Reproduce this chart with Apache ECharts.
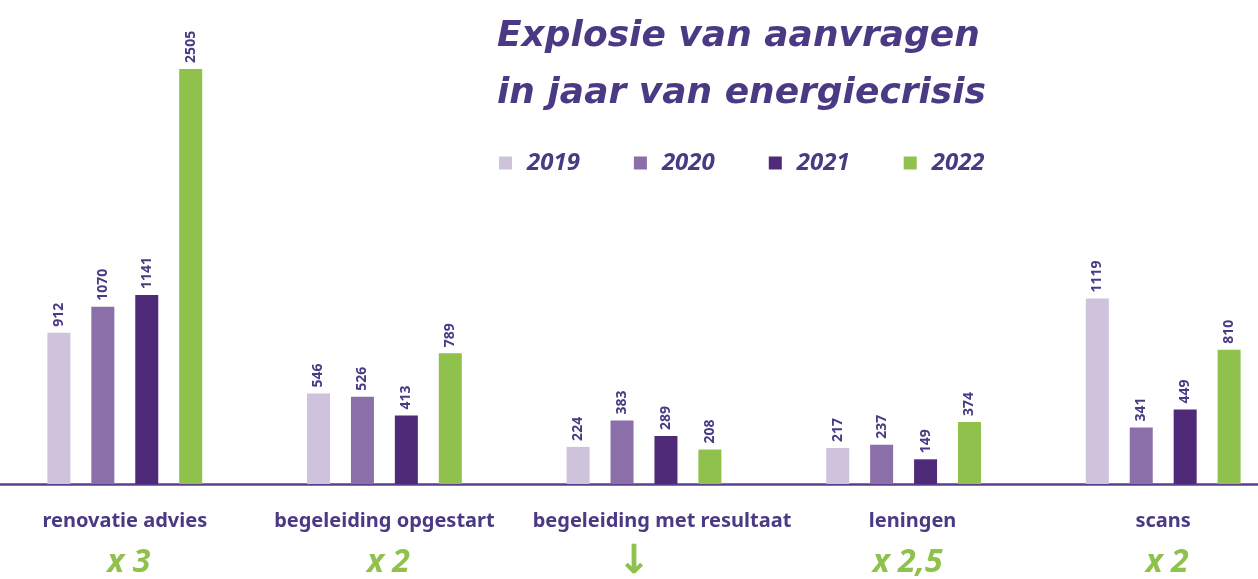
<!DOCTYPE html>
<html>
<head>
<meta charset="utf-8">
<title>Explosie van aanvragen</title>
<script src="https://cdn.jsdelivr.net/npm/echarts@6/dist/echarts.min.js"></script>
<style>
    html, body { margin: 0; padding: 0; background: #fff; }
    #chart { width: 1258px; height: 579px; }
</style>
</head>
<body>
<div id="chart"></div>
<script type="text/javascript">
// categorieën en de groeifactor eronder
var categories = ['renovatie advies', 'begeleiding opgestart', 'begeleiding met resultaat', 'leningen', 'scans'];
var factors = ['x 3', 'x 2', '↓', 'x 2,5', 'x 2'];

// aanvragen per jaar
var years = ['2019', '2020', '2021', '2022'];
var data2019 = [912, 546, 224, 217, 1119];
var data2020 = [1070, 526, 383, 237, 341];
var data2021 = [1141, 413, 289, 149, 449];
var data2022 = [2505, 789, 208, 374, 810];

var colors = ['#cec2dc', '#8a6fa9', '#4f2a78', '#8fc14c'];
var textColor = '#4a3a84';
var green = '#8fc14c';
var sans = '"Noto Sans", sans-serif';

function makeSeries(name, values, color) {
    return {
        name: name,
        type: 'bar',
        barWidth: 23,
        barGap: '91%',
        itemStyle: { color: color },
        label: {
            show: true,
            position: 'top',
            rotate: 90,
            align: 'left',
            verticalAlign: 'middle',
            distance: 6,
            color: textColor,
            fontFamily: sans,
            fontWeight: 'bold',
            fontSize: 14
        },
        data: values
    };
}

var catStyle = { color: textColor, fontFamily: sans, fontWeight: 'bold', fontSize: 20, lineHeight: 22 };
var factorStyle = { color: green, fontFamily: sans, fontStyle: 'italic', fontWeight: 'bold', fontSize: 32, lineHeight: 62, padding: [0, 0, 0, 8] };

var chart = echarts.init(document.getElementById('chart'));
var option = {
    animation: false,
    color: colors,
    title: {
        text: 'Explosie van aanvragen\nin jaar van energiecrisis',
        left: 492,
        top: 3,
        textStyle: {
            color: textColor,
            fontFamily: '"DejaVu Sans", sans-serif',
            fontStyle: 'italic',
            fontWeight: 'bold',
            fontSize: 36,
            lineHeight: 57
        }
    },
    legend: {
        left: 494,
        top: 146,
        itemWidth: 13,
        itemHeight: 13,
        itemGap: 54,
        icon: 'rect',
        textStyle: {
            color: textColor,
            fontFamily: sans,
            fontStyle: 'italic',
            fontWeight: 'bold',
            fontSize: 24,
            padding: [0, 0, 0, 10]
        },
        data: years
    },
    grid: {
        left: -5,
        width: 1298,
        top: 20,
        bottom: 95,
        outerBoundsMode: 'none'
    },
    xAxis: {
        type: 'category',
        data: categories,
        axisLine: { lineStyle: { color: '#5b3f8c', width: 2.5 } },
        axisTick: { show: false },
        axisLabel: {
            margin: 26,
            interval: 0,
            formatter: function (value, idx) {
                var a = 'a', b = 'b';
                if (idx === 2) { a = 'aRight'; b = 'arrow'; }
                if (idx === 3) { a = 'aRightSmall'; }
                return '{' + a + '|' + value + '}\n{' + b + '|' + factors[idx] + '}';
            },
            rich: {
                a: catStyle,
                aRight: Object.assign({}, catStyle, { padding: [0, 0, 0, 36] }),
                aRightSmall: Object.assign({}, catStyle, { padding: [0, 0, 0, 18] }),
                b: factorStyle,
                arrow: {
                    color: green,
                    fontFamily: '"DejaVu Sans", sans-serif',
                    fontWeight: 'bold',
                    fontSize: 40,
                    lineHeight: 62,
                    padding: [0, 20, 0, 0]
                }
            }
        }
    },
    yAxis: {
        type: 'value',
        min: 0,
        max: 2800,
        show: false,
        splitLine: { show: false }
    },
    series: [
        makeSeries(years[0], data2019, colors[0]),
        makeSeries(years[1], data2020, colors[1]),
        makeSeries(years[2], data2021, colors[2]),
        makeSeries(years[3], data2022, colors[3])
    ]
};
chart.setOption(option);
</script>
</body>
</html>
